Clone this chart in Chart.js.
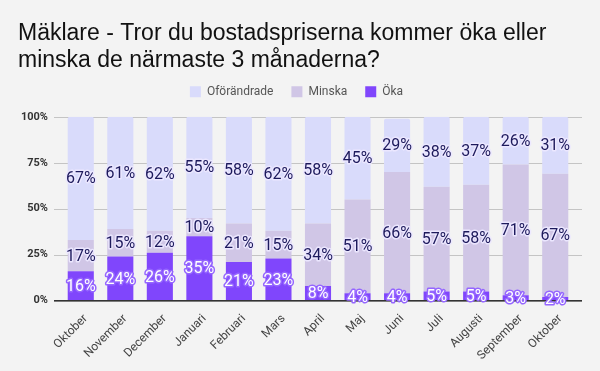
<!DOCTYPE html>
<html><head><meta charset="utf-8">
<script src="https://cdn.jsdelivr.net/npm/chart.js@4/dist/chart.umd.min.js"></script>
<style>html,body{margin:0;padding:0;background:#f3f3f3;}#wrap{width:600px;height:371px;}</style>
</head><body><div id="wrap"><canvas id="c" width="600" height="371"></canvas></div>
<script>
const categories = ["Oktober","November","December","Januari","Februari","Mars","April","Maj","Juni","Juli","Augusti","September","Oktober"];
const oka = [16,24,26,35,21,23,8,4,4,5,5,3,2];
const minska = [17,15,12,10,21,15,34,51,66,57,58,71,67];
const oforandrade = [67,61,62,55,58,62,58,45,29,38,37,26,31];
const yTicks = [0,25,50,75,100];

const legendGap = {
  id:'legendGap',
  beforeLayout(chart){
    const lg = chart.legend;
    if(lg && !lg._patched){
      const f = lg.fit;
      lg.fit = function(){ f.call(this); this.height += 9; };
      lg._patched = true;
    }
  }
};

const gridPlugin = {
  id:'extGrid',
  beforeDatasetsDraw(chart){
    const {ctx, chartArea:a, scales:{y}} = chart;
    ctx.save();
    yTicks.forEach(v=>{
      const py = Math.round(y.getPixelForValue(v))+0.5;
      ctx.beginPath();
      ctx.strokeStyle = '#c4c4c4'; ctx.lineWidth = 1;
      ctx.moveTo(a.left-7,py); ctx.lineTo(a.right+7,py); ctx.stroke();
    });
    ctx.restore();
  },
  afterDatasetsDraw(chart){
    const {ctx, chartArea:a, scales:{y}} = chart;
    ctx.save();
    const py = y.getPixelForValue(0);
    ctx.beginPath(); ctx.strokeStyle='#333'; ctx.lineWidth=1.5;
    ctx.moveTo(a.left-7,py); ctx.lineTo(a.right+7,py); ctx.stroke();
    ctx.restore();
  }
};

const labelPlugin = {
  id:'segLabels',
  afterDatasetsDraw(chart){
    const ctx = chart.ctx;
    ctx.save();
    ctx.font = '16px Roboto';
    ctx.textAlign='center'; ctx.textBaseline='middle';
    ctx.lineJoin='round';
    chart.data.datasets.forEach((ds,i)=>{
      const meta = chart.getDatasetMeta(i);
      meta.data.forEach((bar,j)=>{
        const v = ds.data[j];
        const yy = (bar.y + bar.base)/2;
        const t = Math.round(v)+'%';
        if(i===0){ ctx.strokeStyle='#9566ff'; ctx.fillStyle='#ffffff'; }
        else { ctx.strokeStyle='rgba(236,232,255,0.95)'; ctx.fillStyle='#1d1a5c'; }
        ctx.lineWidth=3;
        ctx.strokeText(t,bar.x,yy+1);
        ctx.fillText(t,bar.x,yy+1);
      });
    });
    ctx.restore();
  }
};

new Chart(document.getElementById('c'),{
  type:'bar',
  data:{labels:categories,datasets:[
    {label:'Öka',data:oka,backgroundColor:'#8046fc'},
    {label:'Minska',data:minska,backgroundColor:'#d0c6e6'},
    {label:'Oförändrade',data:oforandrade,backgroundColor:'#d9dbfb',borderRadius:{topLeft:2,topRight:2,bottomLeft:0,bottomRight:0},borderSkipped:false}
  ]},
  options:{
    responsive:false,animation:false,
    layout:{padding:{left:18,right:25,top:8,bottom:5}},
    datasets:{bar:{categoryPercentage:0.66,barPercentage:1}},
    plugins:{
      title:{display:true,text:['Mäklare - Tror du bostadspriserna kommer öka eller','minska de närmaste 3 månaderna?'],align:'start',color:'#111',font:{family:'Liberation Sans',size:23,weight:'normal',lineHeight:1.17},padding:{top:12,bottom:-6}},
      legend:{reverse:true,labels:{boxWidth:11,boxHeight:11,color:'#555',font:{family:'Roboto',size:12},padding:18}},
      tooltip:{enabled:false}
    },
    scales:{
      x:{stacked:true,grid:{display:false},border:{display:false},ticks:{color:'#444',font:{family:'Roboto',size:12},maxRotation:45,minRotation:45,padding:3,labelOffset:5}},
      y:{stacked:true,min:0,max:100,afterBuildTicks(s){s.ticks=yTicks.map(v=>({value:v}));},
         afterFit(s){s.width=43;},
         grid:{display:false,drawTicks:false},border:{display:false},
         ticks:{color:'#333',font:{family:'Roboto',size:11,weight:'bold'},padding:13,callback:v=>v+'%'}}
    }
  },
  plugins:[legendGap,gridPlugin,labelPlugin]
});
</script></body></html>
